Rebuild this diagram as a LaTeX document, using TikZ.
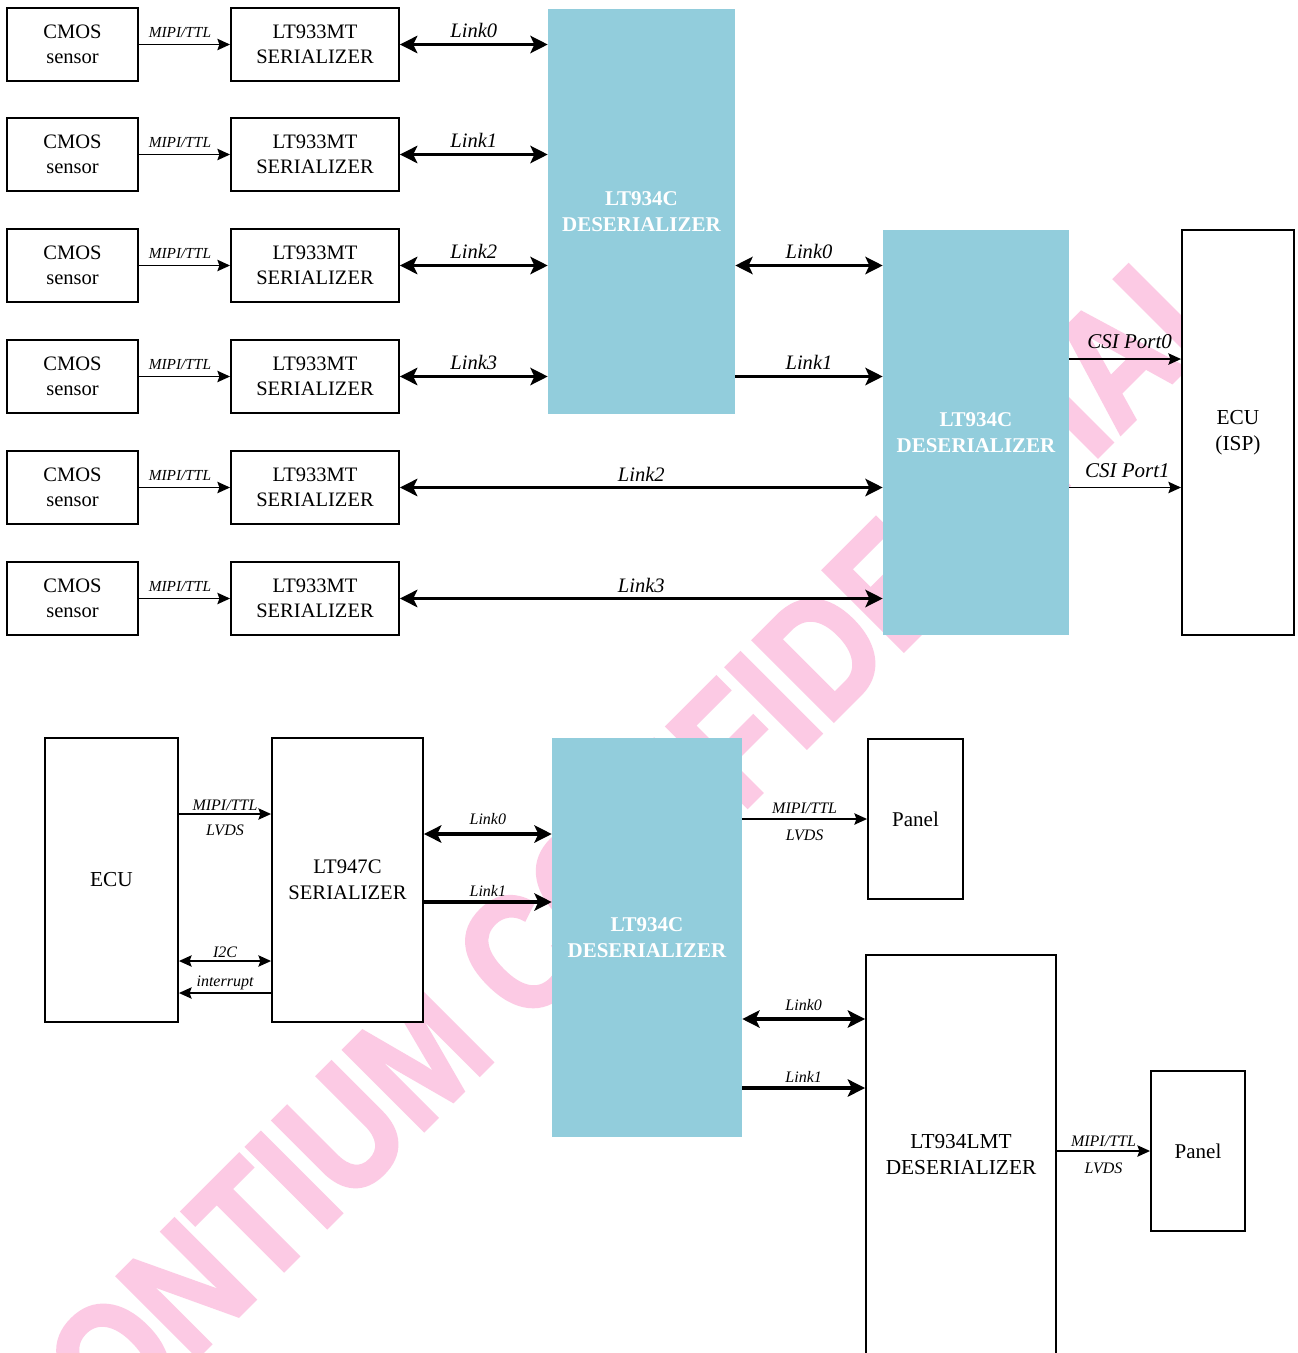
\documentclass[tikz,border=0pt]{standalone}
\usepackage{fontspec}
\setmainfont{Liberation Serif}
\newfontfamily\wmfont{Liberation Sans Bold}[FakeStretch=0.83,FakeBold=2]
\usetikzlibrary{arrows.meta,calc}
\definecolor{bluebox}{RGB}{146,205,220}
\definecolor{wmpink}{RGB}{252,202,228}
\begin{document}
\begin{tikzpicture}[x=0.75pt,y=-0.75pt,
  box/.style={draw, line width=1.4pt, fill=white, inner sep=0pt, align=center},
  chip/.style={fill=bluebox, draw=none, inner sep=0pt, align=center, text=white,
    font=\bfseries\fontsize{15.75}{19}\selectfont},
  toptext/.style={font=\fontsize{15.4}{18.5}\selectfont},
  bigtext/.style={font=\fontsize{16}{19.5}\selectfont},
  lab/.style={anchor=base, inner sep=0pt},
  linklab/.style={lab, font=\itshape\fontsize{15.4}{16}\selectfont},
  mipilab/.style={lab, font=\itshape\fontsize{11.5}{12}\selectfont},
  slab/.style={lab, font=\itshape\fontsize{12}{14}\selectfont},
  csilab/.style={lab, font=\itshape\fontsize{15.75}{17}\selectfont},
  thinarr/.style={line width=1.3pt, -{Stealth[length=9.5pt,width=8.5pt,inset=1.5pt]}},
  thinbi/.style={line width=1.3pt, {Stealth[length=9.5pt,width=8.5pt,inset=1.5pt]}-{Stealth[length=9.5pt,width=8.5pt,inset=1.5pt]}},
  bi/.style={line width=2.6pt, {Stealth[length=13pt,width=13pt,inset=3pt]}-{Stealth[length=13pt,width=13pt,inset=3pt]}},
  uni/.style={line width=2.6pt, -{Stealth[length=13pt,width=13pt,inset=3pt]}},
  wm/.style={text=wmpink, inner sep=0pt, rotate=45, font=\wmfont\fontsize{124}{130}\selectfont}
]
\useasboundingbox (0,0) rectangle (1297,1353);
\fill[white] (0,0) rectangle (1297,1353);

% watermark
\node[wm] (wm) at (612,862) {LONTIUM CONFIDENTIAL};

% ---------- top section ----------
\foreach \i/\y in {0/44.5,1/154.5,2/265.5,3/376.5,4/487.5,5/598.5}{
  \node[box, toptext, minimum width=98.25pt, minimum height=54.75pt] (c\i) at (72.5,\y) {CMOS\\sensor};
  \node[box, toptext, minimum width=126pt, minimum height=54.75pt] (s\i) at (315,\y) {LT933MT\\SERIALIZER};
  \draw[thinarr] (c\i.east) -- (s\i.west) node[pos=0.45, mipilab, yshift=5.25pt] {MIPI/TTL};
}
\node[chip, minimum width=140.25pt, minimum height=303.75pt] (d1) at (641.5,211.5) {LT934C\\DESERIALIZER};
\node[chip, minimum width=139.5pt, minimum height=303.75pt] (d2) at (976,432.5) {LT934C\\DESERIALIZER};
\node[box, bigtext, minimum width=84pt, minimum height=303.75pt] (ecu1) at (1238,432.5) {ECU\\(ISP)};

\foreach \i in {0,1,2,3}{
  \draw[bi] (s\i.east) -- (s\i.east -| d1.west) node[midway, linklab, yshift=5.5pt] {Link\i};
}
\draw[bi] (d1.east |- s2.east) -- (d2.west |- s2.east) node[midway, linklab, yshift=5pt] {Link0};
\draw[uni] (d1.east |- s3.east) -- (d2.west |- s3.east) node[midway, linklab, yshift=5pt] {Link1};
\draw[bi] (s4.east) -- (s4.east -| d2.west) node[midway, linklab, yshift=4.5pt] {Link2};
\draw[bi] (s5.east) -- (s5.east -| d2.west) node[midway, linklab, yshift=4.5pt] {Link3};

\draw[thinarr] ([yshift=55.1pt]d2.east) -- ([yshift=55.1pt]ecu1.west) node[pos=0.54, csilab, yshift=8pt] {CSI Port0};
\draw[thinarr] (d2.east |- s4.east) -- (ecu1.west |- s4.east) node[pos=0.52, csilab, yshift=7.5pt] {CSI Port1};

% ---------- bottom section ----------
\node[box, bigtext, minimum width=99.75pt, minimum height=213pt] (ecu2) at (111.5,880) {ECU};
\node[box, font=\fontsize{15.5}{19.5}\selectfont, minimum width=113.25pt, minimum height=213pt] (s947) at (347.5,880) {LT947C\\SERIALIZER};
\node[chip, minimum width=142.5pt, minimum height=299.25pt] (d3) at (647,937.5) {LT934C\\DESERIALIZER};
\node[box, font=\fontsize{15.75}{19}\selectfont, minimum width=71.25pt, minimum height=120pt] (p1) at (915.5,819) {Panel};
\node[box, bigtext, minimum width=142.5pt, minimum height=300pt] (lmt) at (961,1155) {LT934LMT\\DESERIALIZER};
\node[box, font=\fontsize{15.75}{19}\selectfont, minimum width=70.5pt, minimum height=120pt] (p2) at (1198,1151) {Panel};

\draw[thinarr] ([yshift=49.5pt]ecu2.east) -- ([yshift=49.5pt]s947.west)
  node[midway, slab, yshift=3pt] {MIPI/TTL}
  node[midway, slab, yshift=-15.75pt] {LVDS};
\draw[thinbi] ([yshift=-60.75pt]ecu2.east) -- ([yshift=-60.75pt]s947.west) node[midway, slab, yshift=3pt] {I2C};
\draw[thinarr] ([yshift=-84.75pt]s947.west) -- ([yshift=-84.75pt]ecu2.east) node[midway, slab, yshift=5pt] {interrupt};

\coordinate (k0) at ([yshift=34.5pt]s947.east);
\coordinate (k1) at ([yshift=-16.5pt]s947.east);
\draw[bi] (k0) -- (k0 -| d3.west) node[midway, slab, yshift=7.5pt] {Link0};
\draw[uni] (k1) -- (k1 -| d3.west) node[midway, slab, yshift=4pt] {Link1};

\draw[thinarr] (d3.east |- p1.west) -- (p1.west)
  node[midway, slab, yshift=4.5pt] {MIPI/TTL}
  node[midway, slab, yshift=-15.75pt] {LVDS};

\coordinate (m0) at ([yshift=102pt]lmt.west);
\coordinate (m1) at ([yshift=50.25pt]lmt.west);
\draw[bi] (m0 -| d3.east) -- (m0) node[midway, slab, yshift=6.75pt] {Link0};
\draw[uni] (m1 -| d3.east) -- (m1) node[midway, slab, yshift=4.5pt] {Link1};

\draw[thinarr] (lmt.east |- p2.west) -- (p2.west)
  node[midway, slab, yshift=3.75pt] {MIPI/TTL}
  node[midway, slab, yshift=-16.5pt] {LVDS};
\end{tikzpicture}
\end{document}
